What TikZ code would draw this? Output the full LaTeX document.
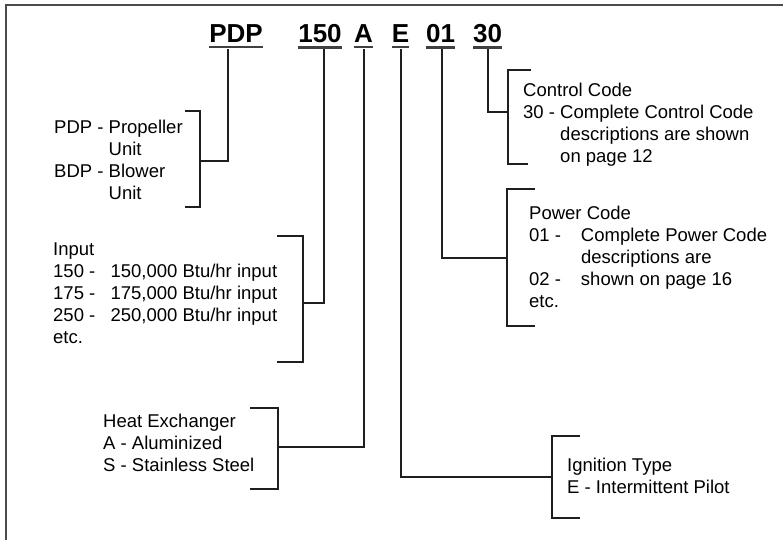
\documentclass[tikz,border=0pt]{standalone}
\usepackage{fontspec}
\setmainfont{Liberation Sans}
\tikzset{
  code/.style={font=\fontsize{26}{30}\selectfont\bfseries, inner xsep=0pt, inner ysep=4pt, anchor=base},
  desc/.style={font=\fontsize{18.5}{22}\selectfont, align=left, inner sep=0pt, anchor=base west},
  uline/.style={line width=2.5pt, draw=black!75},
  wire/.style={line width=2pt, draw=black!88, shorten <=2pt},
  brace/.style={line width=2pt, draw=black!88},
}
\begin{document}
\begin{tikzpicture}[x=1pt,y=-1pt]
  \useasboundingbox (0,0) rectangle (783,540);
  \draw[line width=1.5pt, black!70] (6,540) |- (783,5);
  % model number
  \node[code] (pdp) at (236,43) {PDP};
  \node[code] (inp) at (320,43) {150};
  \node[code] (hx) at (363.5,43) {A};
  \node[code] (ign) at (400.5,43) {E};
  \node[code] (pwr) at (440.5,43) {01};
  \node[code] (ctl) at (487.5,43) {30};
  \foreach \n in {pdp,inp,hx,ign,pwr,ctl}
    \draw[uline] (\n.south west) -- (\n.south east);
  % descriptions (anchored at the baseline of the last line)
  \node[desc] (pdpd) at (54,199.5) {PDP - Propeller\\\hphantom{PDP - }Unit\\BDP - Blower\\\hphantom{BDP - }Unit};
  \node[desc] (inpd) at (53,343.5) {Input\\\makebox[3.1em][l]{150 -}150,000 Btu/hr input\\\makebox[3.1em][l]{175 -}175,000 Btu/hr input\\\makebox[3.1em][l]{250 -}250,000 Btu/hr input\\etc.};
  \node[desc] (hxd) at (103,471.5) {Heat Exchanger\\A - Aluminized\\S - Stainless Steel};
  \node[desc] (ignd) at (567,493.5) {Ignition Type\\E - Intermittent Pilot};
  \node[desc] (pwrd) at (529,307.5) {Power Code\\\makebox[2.8em][l]{01 -}Complete Power Code\\\hphantom{\makebox[2.8em][l]{01 -}}descriptions are\\\makebox[2.8em][l]{02 -}shown on page 16\\etc.};
  \node[desc] (ctld) at (523,162.5) {Control Code\\30 - Complete Control Code\\\hphantom{30 - }descriptions are shown\\\hphantom{30 - }on page 12};
  % brackets
  \draw[brace] (185,111) -| (200,207) -- (185,207);
  \draw[brace] (277,236) -| (303,362) -- (277,362);
  \draw[brace] (250,408) -| (278,489) -- (250,489);
  \draw[brace] (580,436) -| (552,518) -- (580,518);
  \draw[brace] (535,189) -| (507,326) -- (535,326);
  \draw[brace] (531,70) -| (508,164) -- (528,164);
  \coordinate (pdpj) at (200,161);
  \coordinate (inpj) at (303,303);
  \coordinate (hxj) at (278,447);
  \coordinate (ignj) at (552,477);
  \coordinate (pwrj) at (507,258);
  \coordinate (ctlj) at (508,112);
  % connectors
  \draw[wire] ([xshift=-8pt]pdp.south) |- (pdpj);
  \draw[wire] ([xshift=4pt]inp.south) |- (inpj);
  \draw[wire] (hx.south) |- (hxj);
  \draw[wire] (ign.south) |- (ignj);
  \draw[wire] ([xshift=1.5pt]pwr.south) |- (pwrj);
  \draw[wire] (ctl.south) |- (ctlj);
\end{tikzpicture}
\end{document}
